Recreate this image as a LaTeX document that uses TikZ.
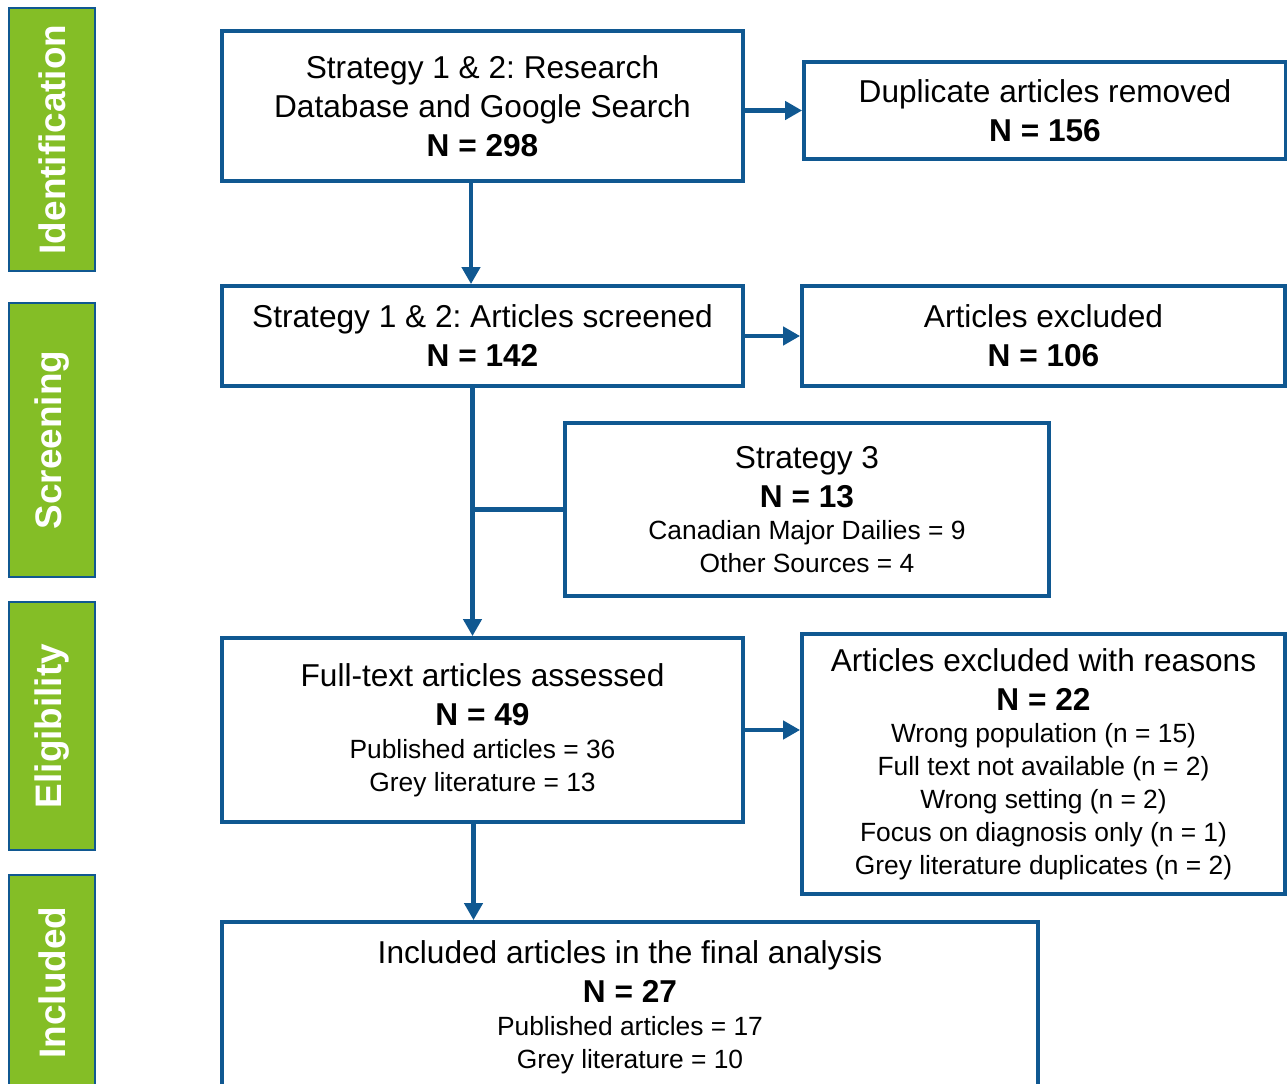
\documentclass[tikz,border=0pt]{standalone}
\usepackage{fontspec}
\setmainfont{Liberation Sans}
\usetikzlibrary{arrows.meta}

\definecolor{prismablue}{RGB}{16,88,145}
\definecolor{prismagreen}{RGB}{132,190,38}
\newcommand{\smtxt}{\fontsize{15}{18.2}\selectfont}

\tikzset{
	box/.style={draw=prismablue, line width=2.2pt, align=center, inner sep=0pt,
		font=\fontsize{18}{22.2}\selectfont},
	phase/.style={draw=prismablue, line width=0.8pt, fill=prismagreen, text=white,
		font=\fontsize{21}{25}\selectfont\bfseries, rotate=90, minimum height=1.72cm},
	link/.style={draw=prismablue, line width=2.8pt},
	arr/.style={link, -{Triangle[length=0.34cm,width=0.36cm]}},
}

\begin{document}
\frenchspacing
\begin{tikzpicture}[x=0.02cm, y=-0.02cm]
			\useasboundingbox (0,0) rectangle (1287,1084);
			\clip (0,0) rectangle (1287,1084);

			% phases
			\node[phase, minimum width=5.26cm] (pid) at (52,139.5) {Identification};
			\node[phase, minimum width=5.48cm] (pscr) at (52,440) {Screening};
			\node[phase, minimum width=4.96cm] (pel) at (52,726) {Eligibility};
			\node[phase, minimum width=4.3cm] (pinc) at (52,982.5) {Included};

			% boxes
			\node[box, minimum width=10.42cm, minimum height=3.0cm] (ident) at (482.5,106)
				{Strategy 1 \& 2: Research\\ Database and Google Search\\ \textbf{N = 298}};
			\node[box, minimum width=9.64cm, minimum height=1.94cm] (dup) at (1045,110.5)
				{Duplicate articles removed\\ \textbf{N = 156}};
			\node[box, minimum width=10.42cm, minimum height=2.0cm] (screen) at (482.5,336)
				{Strategy 1 \& 2: Articles screened\\ \textbf{N = 142}};
			\node[box, minimum width=9.66cm, minimum height=2.0cm] (excl) at (1043.5,336)
				{Articles excluded\\ \textbf{N = 106}};
			\node[box, minimum width=9.68cm, minimum height=3.46cm] (strat3) at (807,509.5)
				{Strategy 3\\ \textbf{N = 13}\\[-3.5pt] \smtxt Canadian Major Dailies = 9\\[-3.5pt] \smtxt Other Sources = 4};
			\node[box, minimum width=10.42cm, minimum height=3.68cm] (full) at (482.5,730)
				{Full-text articles assessed\\ \textbf{N = 49}\\[-3.5pt] \smtxt Published articles = 36\\[-3.5pt] \smtxt Grey literature = 13};
			\node[box, minimum width=9.66cm, minimum height=5.2cm] (reasons) at (1043.5,764)
				{Articles excluded with reasons\\ \textbf{N = 22}\\[-3.5pt]
				\smtxt Wrong population (n = 15)\\[-3.5pt] \smtxt Full text not available (n = 2)\\[-3.5pt]
				\smtxt Wrong setting (n = 2)\\[-3.5pt] \smtxt Focus on diagnosis only (n = 1)\\[-3.5pt]
				\smtxt Grey literature duplicates (n = 2)};
			\node[box, minimum width=16.32cm, minimum height=3.4cm] (incl) at (630,1007)
				{Included articles in the final analysis\\ \textbf{N = 27}\\[-3.5pt] \smtxt Published articles = 17\\[-3.5pt] \smtxt Grey literature = 10};

			% connectors
			\coordinate (stem1) at ([xshift=-0.23cm]ident.south);
			\coordinate (stem2) at ([xshift=-0.2cm]screen.south);
			\coordinate (stem3) at ([xshift=-0.18cm]full.south);
			\draw[arr] (stem1) -- (stem1 |- screen.north);
			\draw[arr] (ident.east |- dup.west) -- (dup.west);
			\draw[arr] (screen.east) -- (excl.west);
			\draw[arr] (stem2) -- (stem2 |- full.north);
			\draw[link] (strat3.west) -- (strat3.west -| stem2);
			\draw[arr] (full.east) -- (full.east -| reasons.west);
			\draw[arr] (stem3) -- (stem3 |- incl.north);
\end{tikzpicture}
\end{document}
